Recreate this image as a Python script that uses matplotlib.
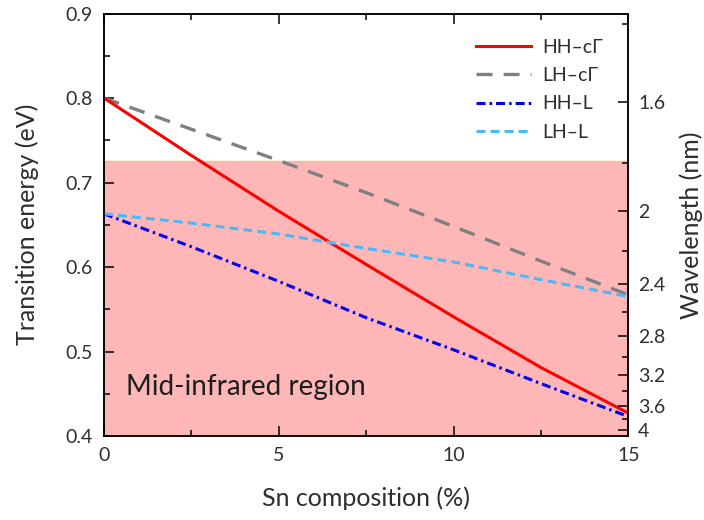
import matplotlib
matplotlib.use("Agg")
import matplotlib.pyplot as plt
import numpy as np

plt.rcParams['font.family'] = ['Lato', 'DejaVu Sans']
plt.rcParams['lines.scale_dashes'] = False

# Sn composition (%)
sn = [0, 2.5, 5, 7.5, 10, 12.5, 15]

# transition energies (eV)
hh_cg = [0.800, 0.732, 0.666, 0.603, 0.541, 0.481, 0.427]
lh_cg = [0.800, 0.763, 0.726, 0.688, 0.648, 0.607, 0.567]
hh_l = [0.663, 0.624, 0.583, 0.540, 0.502, 0.462, 0.423]
lh_l = [0.663, 0.652, 0.639, 0.622, 0.606, 0.585, 0.565]

mir_top = 0.726  # upper edge of the mid-infrared band

# wavelength ticks on the right axis
wl_major = [1.6, 2, 2.4, 2.8, 3.2, 3.6, 4]
wl_minor = [1.4, 1.8, 2.2, 2.6, 3.0, 3.4, 3.8]


def wl_to_energy(wl):
    # mapping used by the original right-hand scale
    return 1.036 / np.asarray(wl, dtype=float) + 0.148


text_col = '#2e2e2e'

fig = plt.figure(figsize=(7.04, 5.2), dpi=100)
ax = fig.add_axes([0.1477, 0.1615, 0.745, 0.8125])

ax.axhspan(0.4, mir_top, facecolor='#ffb6b6', edgecolor='#f3c183', lw=1, zorder=0)

ax.plot(sn, hh_cg, color='#ff0000', lw=2.2, label='HH\u2013c\u0393', zorder=3)
ax.plot(sn, lh_cg, color='#808080', lw=2.4, linestyle=(0, (11.5, 8)),
        label='LH\u2013c\u0393', zorder=2)
ax.plot(sn, hh_l, color='#0000ee', lw=2.2, linestyle=(0, (6.5, 2.9, 1.8, 2.9)),
        label='HH\u2013L', zorder=3)
ax.plot(sn, lh_l, color='#4db8f5', lw=2.2, linestyle=(0, (6.5, 3.6)),
        label='LH\u2013L', zorder=3)

ax.text(0.62, 0.458, 'Mid-infrared region', fontsize=20, color='#1e1e1e', va='center')

ax.set_xlim(0, 15)
ax.set_ylim(0.4, 0.9)
ax.set_xticks([0, 5, 10, 15])
ax.set_xticks([2.5, 7.5, 12.5], minor=True)
ax.set_yticks([0.4, 0.5, 0.6, 0.7, 0.8, 0.9])
ax.set_yticks([0.45, 0.55, 0.65, 0.75, 0.85], minor=True)
ax.set_xticklabels(['0', '5', '10', '15'])
ax.set_yticklabels(['0.4', '0.5', '0.6', '0.7', '0.8', '0.9'])
ax.tick_params(which='both', direction='in', top=True, right=False,
               labelsize=14, labelcolor=text_col, pad=8)
ax.tick_params(which='major', length=7, width=1.1)
ax.tick_params(which='minor', length=4, width=1.1)
for s in ax.spines.values():
    s.set_linewidth(1.1)

ax.set_xlabel('Sn composition (%)', fontsize=18, color=text_col, labelpad=16)
ax.set_ylabel('Transition energy (eV)', fontsize=18, color=text_col, labelpad=19)

ax2 = ax.twinx()
ax2.set_ylim(ax.get_ylim())
ax2.set_yticks(wl_to_energy(wl_major))
ax2.set_yticks(wl_to_energy(wl_minor), minor=True)
ax2.set_yticklabels(['%g' % w for w in wl_major])
ax2.tick_params(which='both', direction='in', labelsize=14, labelcolor=text_col, pad=7)
ax2.tick_params(which='major', length=7, width=1.1)
ax2.tick_params(which='minor', length=4, width=1.1)
for s in ax2.spines.values():
    s.set_linewidth(1.1)
ax2.set_ylabel('Wavelength (nm)', fontsize=18, color=text_col, labelpad=10)

leg = ax.legend(loc='upper right', frameon=False, fontsize=14, handlelength=2.8,
                handletextpad=0.6, labelspacing=0.58, borderaxespad=0.9)
for t in leg.get_texts():
    t.set_color(text_col)

fig.savefig('out.png', dpi=100)
